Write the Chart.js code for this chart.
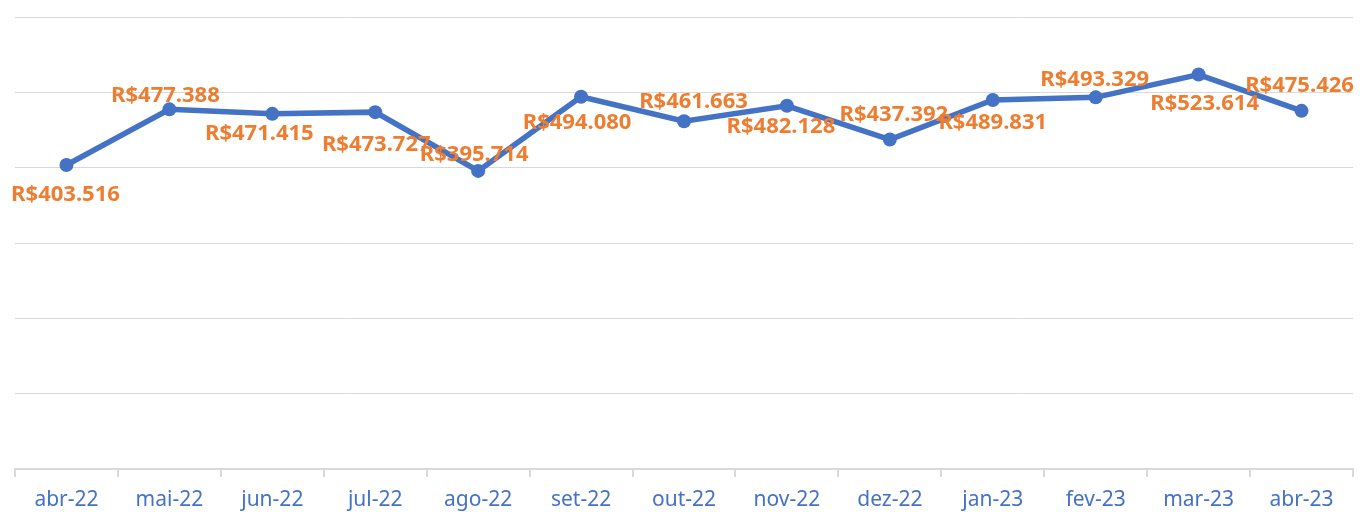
<!DOCTYPE html>
<html>
<head>
<meta charset="utf-8">
<script src="https://cdn.jsdelivr.net/npm/chart.js@4/dist/chart.umd.min.js"></script>
<style>
  html, body { margin: 0; padding: 0; background: #ffffff; }
  #wrap { width: 1360px; height: 512px; }
</style>
</head>
<body>
<div id="wrap"><canvas id="c" width="1360" height="512"></canvas></div>
<script>
const categories = ['abr-22','mai-22','jun-22','jul-22','ago-22','set-22','out-22','nov-22','dez-22','jan-23','fev-23','mar-23','abr-23'];
const values = [403516, 477388, 471415, 473727, 395714, 494080, 461663, 482128, 437392, 489831, 493329, 523614, 475426];
const yTicks = [0, 100000, 200000, 300000, 400000, 500000, 600000];

// label placement offsets (style only)
const labelOffsets = [
  [-1, 27.5], [-4, -15], [-13, 18.5], [1, 30.5], [-4, -18], [-4, 24], [9.5, -21],
  [-6, 19], [4, -26.5], [0, 21], [-1, -19.5], [6, 27], [-2, -27]
];

function fmt(v) {
  return 'R$' + v.toLocaleString('pt-BR');
}

const labelPlugin = {
  id: 'valueLabels',
  afterDatasetsDraw(chart) {
    const ctx = chart.ctx;
    const meta = chart.getDatasetMeta(0);
    ctx.save();
    ctx.font = 'bold 22px "Noto Sans"';
    ctx.fillStyle = '#ED7D31';
    ctx.textAlign = 'center';
    ctx.textBaseline = 'alphabetic';
    meta.data.forEach((pt, i) => {
      const off = labelOffsets[i];
      ctx.fillText(fmt(chart.data.datasets[0].data[i]), pt.x + off[0], pt.y + off[1] + 8);
    });
    ctx.restore();
  }
};

new Chart(document.getElementById('c'), {
  type: 'line',
  data: {
    labels: categories,
    datasets: [{
      data: values,
      borderColor: '#4472C4',
      backgroundColor: '#4472C4',
      borderWidth: 5.5,
      pointRadius: 7,
      pointHoverRadius: 7,
      pointBackgroundColor: '#4472C4',
      pointBorderWidth: 0,
      tension: 0
    }]
  },
  options: {
    responsive: false,
    animation: false,
    layout: { padding: { left: 15, right: 4, top: 17, bottom: 0 } },
    plugins: { legend: { display: false }, tooltip: { enabled: false } },
    scales: {
      x: {
        offset: true,
        grid: { offset: true, drawOnChartArea: false, drawTicks: true, tickLength: 8, color: '#d9d9d9', lineWidth: 2 },
        border: { display: true, color: '#d9d9d9', width: 2 },
        ticks: { color: '#4472C4', font: { family: '"Noto Sans"', size: 21 }, padding: 10, maxRotation: 0, autoSkip: false },
        afterFit(s) { s.height = 43; }
      },
      y: {
        min: yTicks[0],
        max: yTicks[yTicks.length - 1],
        afterBuildTicks(s) { s.ticks = yTicks.map(v => ({ value: v })); },
        ticks: { display: false },
        grid: { color: '#d9d9d9', lineWidth: 1, drawTicks: false },
        border: { display: false },
        afterFit(s) { s.width = 0; }
      }
    }
  },
  plugins: [labelPlugin]
});
</script>
</body>
</html>
